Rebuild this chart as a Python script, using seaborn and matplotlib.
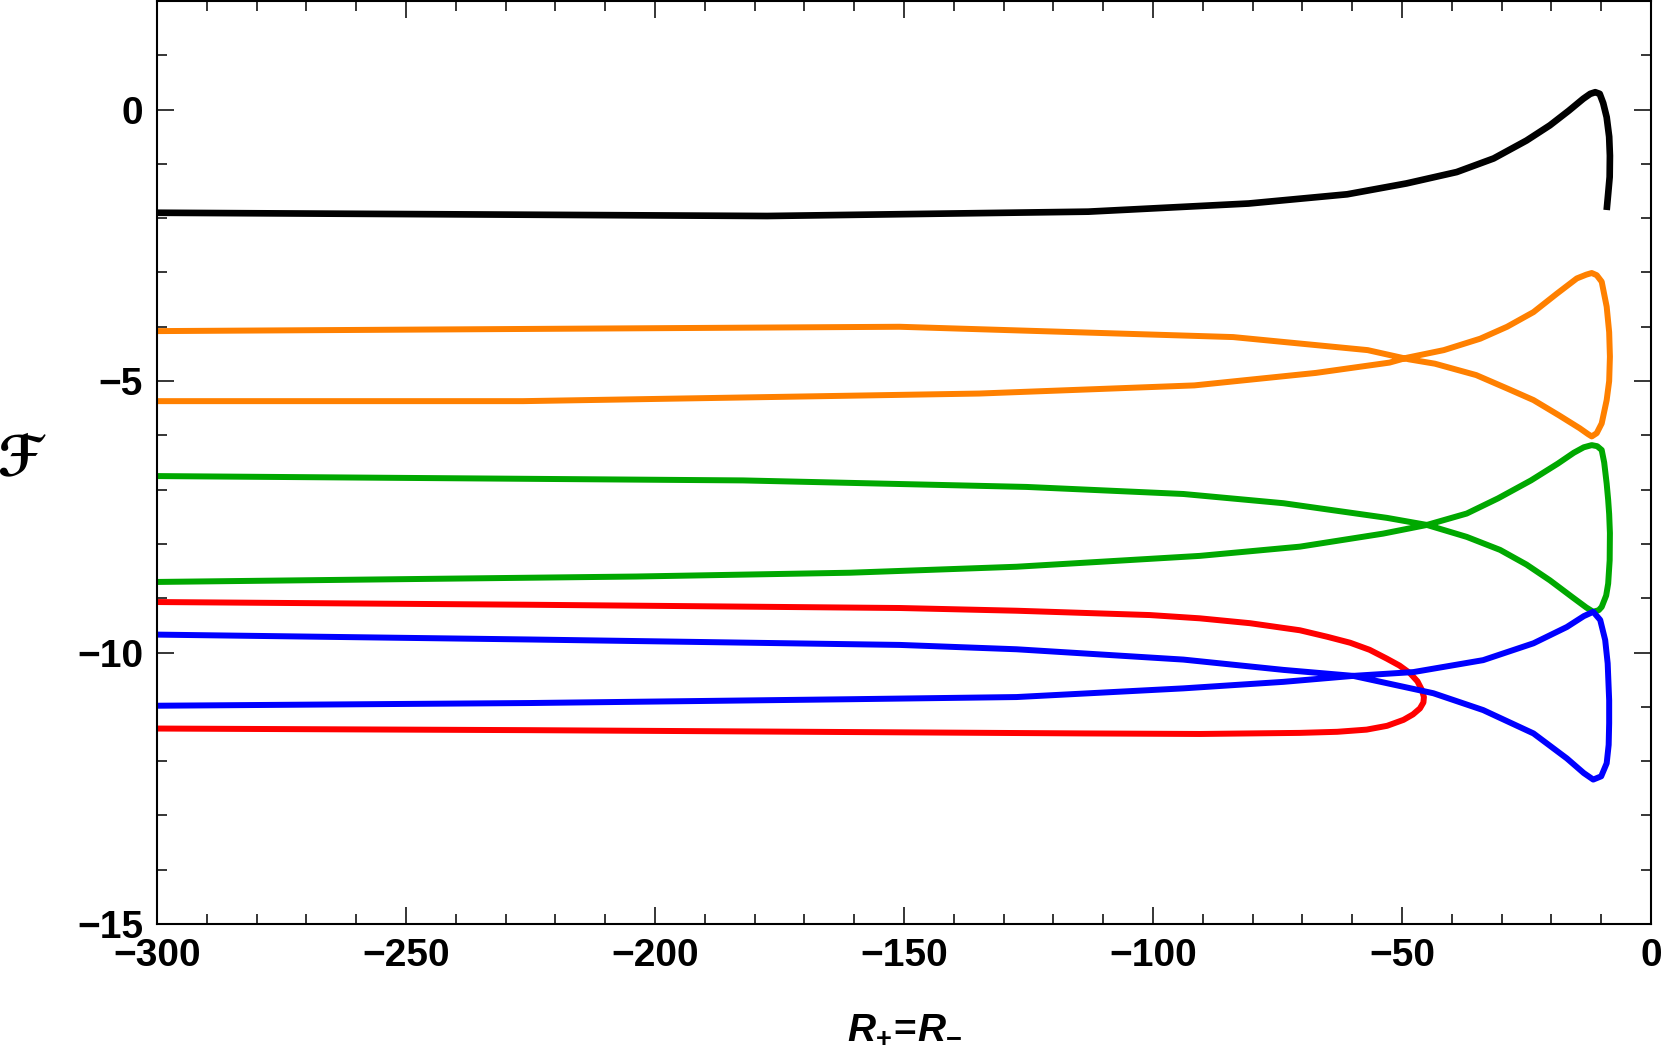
import numpy as np
import pandas as pd
import matplotlib
matplotlib.use("Agg")
import matplotlib.pyplot as plt
from matplotlib.ticker import MultipleLocator
import seaborn as sns

# ---- data ----
black_x = [-300, -177.5, -113, -80.8, -61, -49.1, -39, -31.6, -25, -20.3, -16.5, -13.6, -12.2, -11.2,
           -10.3, -9.6, -8.9, -8.4, -8.25, -8.3, -8.6, -8.9]
black_y = [-1.90, -1.96, -1.88, -1.73, -1.56, -1.36, -1.15, -0.90, -0.57, -0.29, -0.02, 0.20, 0.29, 0.32,
           0.29, 0.12, -0.14, -0.5, -0.85, -1.24, -1.55, -1.85]

orange_x = [-300, -150.9, -83.9, -56.9, -48.6, -43.4, -35.1, -28.8, -23.6, -18.5, -14.3, -12.6, -11.9,
            -10.9, -9.9, -8.9, -8.4, -8.25, -8.4, -8.9, -9.9, -10.9, -11.9, -13.0, -14.9, -18.9, -23.6,
            -28.9, -34.3, -41.6, -49.0, -52.5, -67.3, -91.7, -134.9, -226.5, -300]
orange_y = [-4.08, -4.00, -4.19, -4.43, -4.60, -4.68, -4.89, -5.14, -5.35, -5.63, -5.87, -5.98, -6.02,
            -5.96, -5.78, -5.35, -5.0, -4.55, -4.1, -3.63, -3.17, -3.05, -3.01, -3.04, -3.11, -3.39, -3.73,
            -4.00, -4.22, -4.43, -4.57, -4.66, -4.85, -5.08, -5.23, -5.37, -5.37]

green_x = [-300, -182.3, -125.4, -93.9, -73.8, -63.8, -53, -45, -37, -30.3, -25, -20.3, -15.8, -13.0,
           -11.6, -10.5, -9.9, -9.0, -8.6, -8.3, -8.25, -8.4, -8.6, -8.9, -9.4, -9.9, -10.8, -11.9,
           -13.5, -15.5, -18.7, -24.1, -30.7, -37, -45, -53.8, -70.5, -90.6, -127.4, -160.8, -203.8, -300]
green_y = [-6.75, -6.83, -6.95, -7.08, -7.25, -7.38, -7.52, -7.65, -7.87, -8.11, -8.38, -8.67, -8.98, -9.17,
           -9.25, -9.22, -9.16, -8.95, -8.73, -8.3, -7.8, -7.45, -7.19, -6.89, -6.5, -6.27, -6.2, -6.18,
           -6.22, -6.32, -6.52, -6.83, -7.16, -7.44, -7.65, -7.81, -8.05, -8.22, -8.42, -8.53, -8.60, -8.70]

red_x = [-300, -225, -150.8, -127.4, -100.6, -90.6, -80.5, -70.5, -65, -60.4, -56.5, -53.1, -50.5, -48.4,
         -46.9, -46.0, -45.6, -45.7, -46.4, -47.8, -49.7, -53, -57.1, -63, -70.5, -90.6, -114, -150.8,
         -225, -300]
red_y = [-9.07, -9.12, -9.18, -9.23, -9.31, -9.37, -9.46, -9.59, -9.71, -9.82, -9.95, -10.11, -10.24, -10.38,
         -10.53, -10.69, -10.82, -10.92, -11.03, -11.14, -11.24, -11.35, -11.42, -11.46, -11.48, -11.50,
         -11.49, -11.47, -11.43, -11.40]

blue_x = [-300, -225, -150.8, -127.4, -93.9, -73.8, -59.8, -43.7, -33.7, -23.6, -16.9, -13.5, -11.6, -10.0,
          -8.9, -8.5, -8.4, -8.4, -8.7, -9.2, -10.2, -11.6, -13.5, -16.9, -23.6, -33.7, -47.7, -59.8,
          -73.8, -93.9, -127.4, -160.8, -225, -300]
blue_y = [-9.67, -9.76, -9.86, -9.94, -10.13, -10.32, -10.43, -10.75, -11.06, -11.49, -11.95, -12.22, -12.34,
          -12.28, -12.04, -11.7, -11.3, -10.88, -10.2, -9.77, -9.4, -9.25, -9.33, -9.53, -9.83, -10.14,
          -10.36, -10.43, -10.54, -10.66, -10.82, -10.86, -10.93, -10.98]

curves = {
    "black": (black_x, black_y),
    "orange": (orange_x, orange_y),
    "green": (green_x, green_y),
    "red": (red_x, red_y),
    "blue": (blue_x, blue_y),
}
palette = {"black": "#000000", "orange": "#FF8000", "green": "#00A800",
           "red": "#FF0000", "blue": "#0000FF"}

rows = []
for name, (xs, ys) in curves.items():
    for i, (xv, yv) in enumerate(zip(xs, ys)):
        rows.append({"x": xv, "y": yv, "curve": name, "order": i})
df = pd.DataFrame(rows)

# ---- style ----
sns.set_style("ticks")
plt.rcParams["font.family"] = ["Liberation Sans", "DejaVu Sans"]
plt.rcParams["font.weight"] = "bold"
plt.rcParams["text.color"] = "black"
plt.rcParams["axes.labelcolor"] = "black"
plt.rcParams["mathtext.fontset"] = "custom"
plt.rcParams["mathtext.rm"] = "Liberation Sans:bold"
plt.rcParams["mathtext.it"] = "Liberation Sans:italic:bold"
plt.rcParams["mathtext.bf"] = "Liberation Sans:bold"
plt.rcParams["axes.unicode_minus"] = True
plt.rcParams["lines.solid_joinstyle"] = "round"
plt.rcParams["lines.solid_capstyle"] = "butt"

fig = plt.figure(figsize=(16.61, 10.52), dpi=100)
ax = fig.add_axes([157 / 1661, 1 - 924 / 1052, 1494 / 1661, 923 / 1052])

for name in curves:
    sub = df[df["curve"] == name]
    sns.lineplot(data=sub, x="x", y="y", sort=False, estimator=None, ax=ax,
                 color=palette[name], linewidth=4.8 if name == "black" else 4.3,
                 legend=False)

ax.set_xlim(-300, 0)
ax.set_ylim(-15, 2)
ax.xaxis.set_major_locator(MultipleLocator(50))
ax.xaxis.set_minor_locator(MultipleLocator(10))
ax.yaxis.set_major_locator(MultipleLocator(5))
ax.yaxis.set_minor_locator(MultipleLocator(1))

for s in ax.spines.values():
    s.set_visible(True)
    s.set_linewidth(1.5)
    s.set_color("black")

ax.tick_params(which="both", direction="in", top=True, right=True, colors="black", width=1.1)
ax.tick_params(which="major", length=12, labelsize=28)
ax.tick_params(which="minor", length=7.2)
ax.tick_params(axis="x", which="major", pad=10)
ax.tick_params(axis="y", which="major", pad=10)
for lab in ax.get_xticklabels() + ax.get_yticklabels():
    lab.set_fontweight("bold")
    lab.set_color("black")

ax.set_xlabel(r"$R_{+}\!=\!R_{-}$", fontsize=28, color="black")
ax.xaxis.set_label_coords(0.5, -0.095)
ax.xaxis.label.set_va("top")

ax.set_ylabel("\u2131", fontsize=40, rotation=0, fontweight="bold", color="black",
              family=["STIXGeneral", "DejaVu Sans"])
ax.yaxis.set_label_coords(-0.092, 0.5)
ax.yaxis.label.set_va("center")
ax.yaxis.label.set_ha("center")

fig.savefig("out.png", dpi=100)
